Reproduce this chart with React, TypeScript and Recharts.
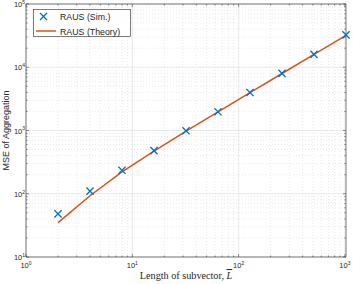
import React from 'react';
import { ComposedChart, Line, XAxis, YAxis, ReferenceLine, Legend, Label } from 'recharts';

const L = [2, 4, 8, 16, 32, 64, 128, 256, 512, 1024];
const simMSE = [48, 110, 235, 480, 990, 1980, 3980, 8000, 16000, 32500];
const theoryMSE = [35, 93, 222, 470, 980, 1970, 3960, 7960, 15950, 32000];

const xMajor = [1, 10, 100, 1000];
const xMinor = [2, 3, 4, 5, 6, 7, 8, 9, 20, 30, 40, 50, 60, 70, 80, 90, 200, 300, 400, 500, 600, 700, 800, 900];
const yMajor = [10, 100, 1000, 10000, 100000];
const yMinor = [
  20, 30, 40, 50, 60, 70, 80, 90,
  200, 300, 400, 500, 600, 700, 800, 900,
  2000, 3000, 4000, 5000, 6000, 7000, 8000, 9000,
  20000, 30000, 40000, 50000, 60000, 70000, 80000, 90000,
];

const seriesNames = ['RAUS (Sim.)', 'RAUS (Theory)'];
const xLabelText = 'Length of subvector, ';
const xLabelVar = 'L';
const yLabelText = 'MSE of Aggregation';

const data = L.map((l, i) => ({ L: l, sim: simMSE[i], theory: theoryMSE[i] }));

const BLUE = '#0072BD';
const ORANGE = '#D95319';
const DARK = '#262626';
const W = 353;
const H = 284;
const PLOT_W = 320;
const PLOT_H = 253;
const SANS = '"Liberation Sans", Arial, sans-serif';
const SERIF = '"Liberation Serif", "Times New Roman", serif';

const exp10 = (v: number) => Math.round(Math.log10(v));

const XTick = (props: any) => {
  const { x, y, payload } = props;
  const v = payload.value;
  const major = xMajor.includes(v);
  const len = major ? 3 : 1.6;
  return (
    <g>
      <line x1={x} x2={x} y1={y} y2={y - len} stroke={DARK} strokeWidth={0.5} />
      <line x1={x} x2={x} y1={y - PLOT_H} y2={y - PLOT_H + len} stroke={DARK} strokeWidth={0.5} />
      {major && (
        <text x={x} y={y + 11} textAnchor="middle" fontSize={7.5} fill={DARK} fontFamily={SANS}>
          10<tspan fontSize={5} dy={-3.2}>{exp10(v)}</tspan>
        </text>
      )}
    </g>
  );
};

const YTick = (props: any) => {
  const { x, y, payload } = props;
  const v = payload.value;
  const major = yMajor.includes(v);
  const len = major ? 3 : 1.6;
  return (
    <g>
      <line x1={x} x2={x + len} y1={y} y2={y} stroke={DARK} strokeWidth={0.5} />
      <line x1={x + PLOT_W} x2={x + PLOT_W - len} y1={y} y2={y} stroke={DARK} strokeWidth={0.5} />
      {major && (
        <text x={x - 1} y={y + 3} textAnchor="end" fontSize={7.5} fill={DARK} fontFamily={SANS}>
          10<tspan fontSize={5} dy={-3.2}>{exp10(v)}</tspan>
        </text>
      )}
    </g>
  );
};

const CrossDot = (props: any) => {
  const { cx, cy, index } = props;
  if (cx == null || cy == null) return <g key={`c${index}`} />;
  const r = 3.6;
  return (
    <g key={`c${index}`}>
      <line x1={cx - r} y1={cy - r} x2={cx + r} y2={cy + r} stroke={BLUE} strokeWidth={1.3} />
      <line x1={cx - r} y1={cy + r} x2={cx + r} y2={cy - r} stroke={BLUE} strokeWidth={1.3} />
    </g>
  );
};

const LegendBox = () => (
  <svg width={98} height={28} style={{ display: 'block' }}>
    <rect x={0.5} y={0.5} width={97} height={27} fill="#ffffff" stroke={DARK} strokeWidth={0.6} />
    <line x1={7} y1={4} x2={14} y2={11} stroke={BLUE} strokeWidth={1.3} />
    <line x1={7} y1={11} x2={14} y2={4} stroke={BLUE} strokeWidth={1.3} />
    <text x={27} y={10.5} fontSize={8.8} fill={DARK} fontFamily={SANS}>{seriesNames[0]}</text>
    <line x1={3} y1={22} x2={23} y2={22} stroke={ORANGE} strokeWidth={1.5} />
    <text x={27} y={25.5} fontSize={8.8} fill={DARK} fontFamily={SANS}>{seriesNames[1]}</text>
  </svg>
);

export default function App() {
  return (
    <div style={{ position: 'absolute', left: 0, top: 0, width: W, height: H, background: '#fff' }}>
      <ComposedChart width={W} height={H} data={data} margin={{ top: 4, right: 7, bottom: 0, left: 0 }}>
        {xMinor.map((v) => (
          <ReferenceLine key={`xm${v}`} x={v} stroke="#dcdcdc" strokeWidth={0.6} strokeDasharray="1 2" />
        ))}
        {yMinor.map((v) => (
          <ReferenceLine key={`ym${v}`} y={v} stroke="#dcdcdc" strokeWidth={0.6} strokeDasharray="1 2" />
        ))}
        {xMajor.map((v) => (
          <ReferenceLine key={`xM${v}`} x={v} stroke="#e3e3e3" strokeWidth={0.8} />
        ))}
        {yMajor.map((v) => (
          <ReferenceLine key={`yM${v}`} y={v} stroke="#e3e3e3" strokeWidth={0.8} />
        ))}
        <XAxis
          dataKey="L"
          type="number"
          scale="log"
          domain={[1, 1024]}
          ticks={[...xMajor, ...xMinor].sort((a, b) => a - b)}
          interval={0}
          tick={<XTick />}
          tickLine={false}
          tickSize={0}
          tickMargin={0}
          axisLine={{ stroke: DARK, strokeWidth: 0.6 }}
          height={27}
        >
          <Label
            content={() => (
              <text x={186} y={279} textAnchor="middle" fontSize={10.2} fill={DARK} fontFamily={SERIF}>
                {xLabelText}
                <tspan fontStyle="italic" style={{ textDecoration: 'overline' }}>{xLabelVar}</tspan>
              </text>
            )}
          />
        </XAxis>
        <YAxis
          type="number"
          scale="log"
          domain={[10, 100000]}
          ticks={[...yMajor, ...yMinor].sort((a, b) => a - b)}
          interval={0}
          tick={<YTick />}
          tickLine={false}
          tickSize={0}
          tickMargin={0}
          axisLine={{ stroke: DARK, strokeWidth: 0.6 }}
          width={26}
        >
          <Label
            content={() => (
              <text
                x={8.5}
                y={130.5}
                transform="rotate(-90 8.5 130.5)"
                textAnchor="middle"
                fontSize={9}
                fill={DARK}
                fontFamily={SANS}
              >
                {yLabelText}
              </text>
            )}
          />
        </YAxis>
        <ReferenceLine x={1024} stroke={DARK} strokeWidth={0.6} />
        <ReferenceLine y={100000} stroke={DARK} strokeWidth={0.6} />
        <Line
          dataKey="theory"
          stroke={ORANGE}
          strokeWidth={1.5}
          dot={false}
          activeDot={false}
          isAnimationActive={false}
        />
        <Line
          dataKey="sim"
          stroke="none"
          dot={CrossDot}
          activeDot={false}
          isAnimationActive={false}
        />
        <Legend
          layout="horizontal"
          verticalAlign="middle"
          align="center"
          wrapperStyle={{ position: 'absolute', left: 33, top: 9, width: 98, height: 28 }}
          content={() => <LegendBox />}
        />
      </ComposedChart>
    </div>
  );
}
